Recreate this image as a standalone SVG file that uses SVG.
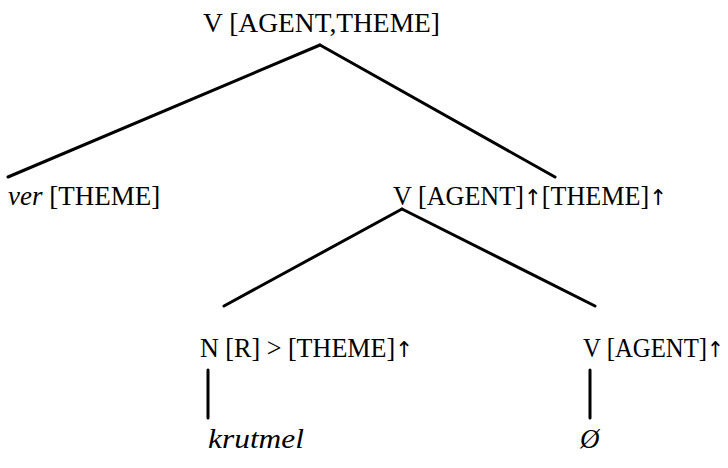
<svg xmlns="http://www.w3.org/2000/svg" width="728" height="468" viewBox="0 0 728 468">
<style>
.t{font-family:"Liberation Serif","Times New Roman",serif;font-size:27px;fill:#000}
.i{font-style:italic}
.a{font-family:"DejaVu Sans",sans-serif;font-size:22px}
.c line{stroke:#000;stroke-width:3;stroke-linecap:round}
</style>
<rect width="728" height="468" fill="#fff"/>
<g class="c" id="connectors">
<line x1="320" y1="45" x2="8" y2="177"/>
<line x1="320" y1="45" x2="555" y2="177"/>
<line x1="402" y1="209" x2="224" y2="306"/>
<line x1="402" y1="209" x2="595" y2="306"/>
<line x1="208" y1="370" x2="208" y2="418"/>
<line x1="590" y1="370" x2="590" y2="418"/>
</g>
<g id="n-root"><text class="t" x="203" y="32" textLength="237" lengthAdjust="spacingAndGlyphs">V [AGENT,THEME]</text></g>
<g id="n-ver"><text class="t" x="8" y="205"><tspan class="i">ver</tspan> [THEME]</text></g>
<g id="n-v2"><text class="t" x="393" y="205" textLength="274" lengthAdjust="spacingAndGlyphs">V [AGENT]<tspan class="a">↑</tspan>[THEME]<tspan class="a">↑</tspan></text></g>
<g id="n-n"><text class="t" x="200" y="357" textLength="213" lengthAdjust="spacingAndGlyphs">N [R] &gt; [THEME]<tspan class="a">↑</tspan></text></g>
<g id="n-v3"><text class="t" x="583" y="357" textLength="141" lengthAdjust="spacingAndGlyphs">V [AGENT]<tspan class="a">↑</tspan></text></g>
<g id="n-krutmel"><text class="t i" x="208" y="448" textLength="96" lengthAdjust="spacingAndGlyphs">krutmel</text></g>
<g id="n-empty"><text class="t i" x="580" y="448">Ø</text></g>
</svg>
